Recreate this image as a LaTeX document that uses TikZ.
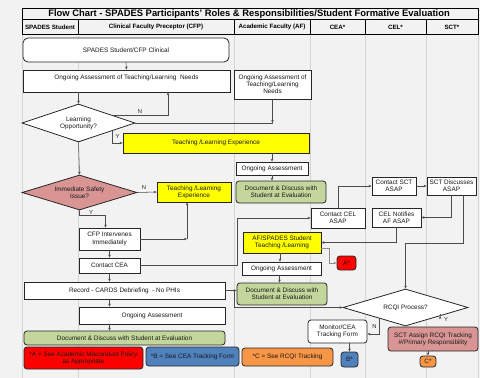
\documentclass[tikz,border=0pt]{standalone}
\usepackage{fontspec}
\setmainfont{Liberation Sans}
\usetikzlibrary{shapes.geometric,arrows.meta,calc}
\definecolor{bg}{HTML}{F2F2F2}
\definecolor{lanecol}{HTML}{D4D4D4}
\definecolor{yel}{HTML}{FFFF00}
\definecolor{grn}{HTML}{C3D69B}
\definecolor{pnk}{HTML}{D99594}
\definecolor{redf}{HTML}{FF0000}
\definecolor{bluf}{HTML}{4F81BD}
\definecolor{orf}{HTML}{F79646}
\begin{document}
\begin{tikzpicture}[x=1pt,y=-1pt,
  wbox/.style={draw=black!85, line width=0.8pt, fill=white, inner sep=0.5pt, align=center,
    font=\fontsize{6.4}{7.2}\selectfont, text=black!90},
  rwbox/.style={wbox, rounded corners=3pt},
  dia/.style={wbox, shape=diamond, inner sep=0pt, aspect=3},
  conn/.style={draw=black!70, line width=0.55pt},
  arr/.style={conn, -{Stealth[length=3pt,width=2.6pt]}},
  hdr/.style={font=\bfseries\fontsize{6.2}{7}\selectfont, inner sep=0pt},
  yn/.style={font=\fontsize{5.8}{7}\selectfont, text=black!85, inner sep=0pt},
  lane/.style={draw=lanecol, line width=0.9pt}]
\useasboundingbox (0,0) rectangle (480,378);
\fill[bg] (0,0) rectangle (480,378);
% lanes
\foreach \xx in {22,78,234,310,365,426,478} \draw[lane] (\xx,34) -- (\xx,378);
% header
\draw[black, line width=0.8pt] (22,8) rectangle (478,34);
\draw[black, line width=0.8pt] (22,19.5) -- (478,19.5);
\foreach \xx in {78,234,310,365,426} \draw[black, line width=0.8pt] (\xx,19.5) -- (\xx,34);
\node[font=\bfseries\fontsize{9.4}{10}\selectfont, inner sep=0pt] (title) at (249,14) {Flow Chart - SPADES Participants' Roles \& Responsibilities/Student Formative Evaluation};
\node[hdr] (h1) at (50,27) {SPADES Student};
\node[hdr] (h2) at (156,27) {Clinical Faculty Preceptor (CFP)};
\node[hdr] (h3) at (272,27) {Academic Faculty (AF)};
\node[hdr] (h4) at (337.5,27) {CEA*};
\node[hdr] (h5) at (395.5,27) {CEL*};
\node[hdr] (h6) at (452,27) {SCT*};
% CFP column
\node[rwbox, rounded corners=5pt, minimum width=206, minimum height=24] (n1) at (126,50) {SPADES Student/CFP Clinical};
\node[wbox, minimum width=207, minimum height=22, text depth=7.5pt] (n2) at (126.5,81) {Ongoing Assessment of Teaching/Learning\ \ Needs};
\node[wbox, minimum width=77, minimum height=29] (n3) at (272.5,84.5) {Ongoing Assessment of\\Teaching/Learning\\Needs};
\node[dia, minimum width=113, minimum height=38] (d1) at (78.5,123) {Learning\\Opportunity?};
\node[wbox, fill=yel, minimum width=186, minimum height=20] (y1) at (216,143) {Teaching /Learning Experience};
\node[dia, fill=pnk, minimum width=115, minimum height=35] (d2) at (79.5,192.5) {Immediate Safety\\Issue?};
\node[wbox, fill=yel, minimum width=74, minimum height=20] (y2) at (194,192) {Teaching /Learning\\Experience};
\node[wbox, minimum width=61, minimum height=22] (cfpi) at (109.5,239) {CFP Intervenes\\Immediately};
\node[wbox, minimum width=61, minimum height=15] (cea) at (109.5,265.5) {Contact CEA};
\node[wbox, minimum width=201, minimum height=17] (rec) at (124.5,290.5) {Record - CARDS Debriefing\ \ - No PHIs};
\node[wbox, minimum width=146, minimum height=17] (oa3) at (152,315.5) {Ongoing Assessment};
\node[rwbox, fill=grn, minimum width=201, minimum height=14] (doc3) at (124.5,338) {Document \& Discuss with Student at Evaluation};
% legends
\node[rwbox, fill=redf, minimum width=119, minimum height=22] (legA) at (83.5,358) {*A = See Academic Misconduct Policy\\as Appropriate};
\node[rwbox, fill=bluf, minimum width=93, minimum height=19] (legB) at (192.5,356.5) {*B = See CEA Tracking Form};
\node[rwbox, fill=orf, minimum width=91, minimum height=18] (legC) at (287.5,357) {*C = See RCQI Tracking};
% AF column
\node[wbox, minimum width=72, minimum height=13] (oa1) at (272,168.5) {Ongoing Assessment};
\node[rwbox, fill=grn, minimum width=90, minimum height=22] (doc1) at (281,192) {Document \& Discuss with\\Student at Evaluation};
\node[wbox, fill=yel, minimum width=78, minimum height=21] (afs) at (282,242.5) {AF/SPADES Student\\Teaching /Learning};
\node[wbox, minimum width=79, minimum height=13] (oa2) at (281.5,268.5) {Ongoing Assessment};
\node[rwbox, fill=grn, minimum width=90, minimum height=22] (doc2) at (282,294) {Document \& Discuss with\\Student at Evaluation};
% CEA / CEL / SCT
\node[wbox, minimum width=54, minimum height=20] (cel) at (338,218) {Contact CEL\\ASAP};
\node[wbox, minimum width=44, minimum height=18] (sct) at (394,186) {Contact SCT\\ASAP};
\node[wbox, minimum width=49, minimum height=18] (sctd) at (451.5,186) {SCT Discusses\\ASAP};
\node[wbox, minimum width=49, minimum height=19] (celn) at (396.5,217.5) {CEL Notifies\\AF ASAP};
\node[rwbox, fill=redf, minimum width=19, minimum height=14] (astar) at (346.5,263) {A*};
\node[dia, minimum width=125, minimum height=37] (rcqi) at (405.5,307.5) {RCQI Process?};
\node[rwbox, minimum width=59, minimum height=23] (mon) at (337.5,331.5) {Monitor/CEA\\Tracking Form};
\node[rwbox, fill=bluf, minimum width=17, minimum height=15] (bstar) at (349.5,359.5) {B*};
\node[rwbox, fill=pnk, minimum width=90, minimum height=24] (pnkb) at (433,339) {SCT Assign RCQI Tracking\\\#/Primary Responsibility};
\node[rwbox, fill=orf, minimum width=16, minimum height=11] (cstar) at (428,361.5) {C*};
% connectors
\draw[arr] (n1.south) -- (n2.north);
\draw[arr] (d1.north |- n2.south) -- (d1.north);
\coordinate (n2b) at ([xshift=41.5pt]n2.south);
\draw[arr] ($(d1.north)!0.6!(d1.east)$) -| (n2b);
\node[yn] (lN1) at (140,112) {N};
\draw[conn] (d1.east) -- (d1.east -| n3.south);
\draw[arr] (n3.south) -- (n3.south |- d1.east);
\draw[arr] ($(d1.south)!0.6!(d1.east)$) |- (y1.west);
\node[yn] (lY1) at (117.5,137) {Y};
\draw[arr] (d1.south) -- (d2.north);
\draw[arr] (d2.east) -- (y2.west);
\node[yn] (lN2) at (144,188) {N};
\draw[arr] (d2.south) -- ++(0,5) -| ([xshift=-4pt]cfpi.north);
\node[yn] (lY2) at (91,212.5) {Y};
\coordinate (j1) at ([xshift=-7pt]y2.south |- cfpi.east);
\draw[arr] (cfpi.east) -- (j1);
\draw[arr] (j1) -- (j1 |- y2.south);
\draw[arr] (cfpi.south) -- (cea.north);
\draw[arr] (cea.east) -| ([xshift=-73pt]cel.west) |- (cel.west);
\draw[arr] (cea.south) -- (rec.north -| cea.south);
\draw[arr] (rec.south -| cea.south) -- (oa3.north -| cea.south);
\draw[arr] (oa3.south -| cea.south) -- (doc3.north -| cea.south);
\draw[arr] (y1.south -| oa1.north) -- (oa1.north);
\draw[arr] (oa1.south) -- (oa1.south |- doc1.north);
\draw[arr] (cel.north) |- (sct.west);
\draw[arr] (sct.east) -- (sctd.west);
\draw[arr] (sctd.south) |- (celn.east);
\draw[arr] ([xshift=11.5pt]sctd.south) -- ++(0,48) -| (rcqi.north);
\draw[arr] (celn.south) |- (afs.east);
\draw[arr, draw=black!45] ([yshift=-5.5pt]afs.east) -- ++(8,0) |- (astar.west);
\draw[arr] ([xshift=-2pt]afs.south) -- ([xshift=-2pt]afs.south |- oa2.north);
\draw[arr] ([xshift=-2pt]oa2.south) -- ([xshift=-2pt]oa2.south |- doc2.north);
\coordinate (j2) at ([xshift=9pt]rec.east);
\draw[arr] (rec.east) -- (rec.east -| doc2.west);
\draw[arr] (j2) |- (rcqi.west);
\draw[arr] ($(rcqi.south)!0.42!(rcqi.west)$) |- ([yshift=-2.5pt]mon.east);
\node[yn] (lN3) at (374.5,327) {N};
\draw[arr] ($(rcqi.south)!0.55!(rcqi.east)$) -- ($(rcqi.south)!0.55!(rcqi.east)$ |- pnkb.north);
\node[yn] (lY3) at (446,319.5) {Y};
\draw[arr] (mon.south -| bstar.north) -- (bstar.north);
\draw[arr] (pnkb.south -| cstar.north) -- (cstar.north);
\end{tikzpicture}
\end{document}
